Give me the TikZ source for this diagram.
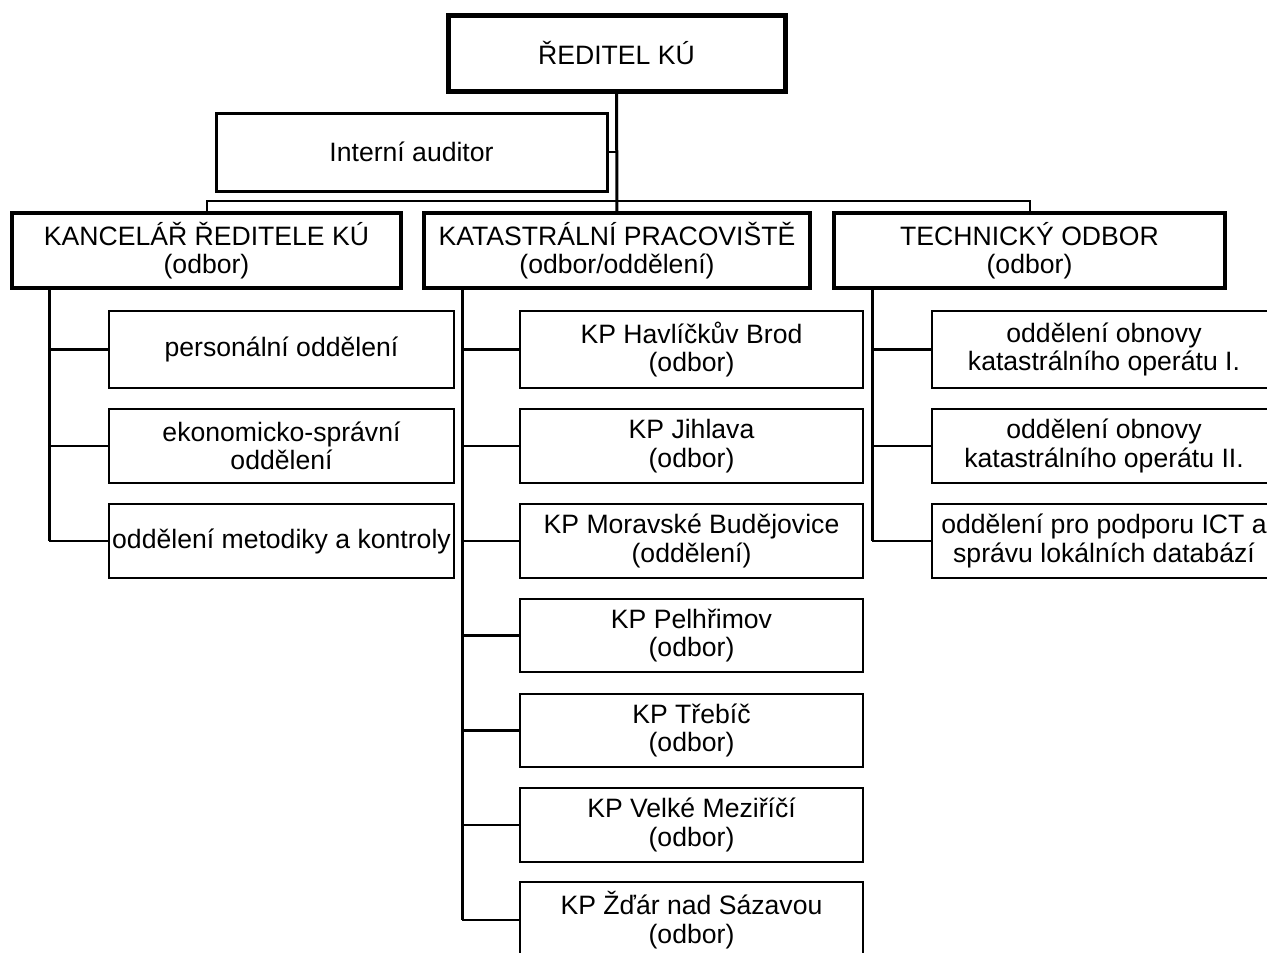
\documentclass[tikz,border=0pt]{standalone}
\usepackage{fontspec}
\setmainfont{Liberation Sans}
\begin{document}
\begin{tikzpicture}[x=1pt,y=-1pt,
  box/.style={draw, line width=2.5pt, align=center, outer sep=0pt, inner sep=0pt,
    font=\fontsize{26.6}{28.5}\selectfont},
  headbox/.style={box, line width=4pt},
  topbox/.style={box, line width=5pt},
  trunk/.style={line width=3pt},
  branch/.style={line width=2.2pt},
  bus/.style={line width=2pt}]
\useasboundingbox (0,0) rectangle (1267,953);
\clip (0,0) rectangle (1267,953);

% director and internal auditor
\node[topbox, minimum width=337pt, minimum height=76pt] (top) at (616.5,53) {ŘEDITEL KÚ};
\node[box, line width=3pt, minimum width=391pt, minimum height=78pt] (ia) at (411.5,152) {Interní auditor};

% departments
\node[headbox, minimum width=389pt, minimum height=75pt] (kanc) at (206.5,250.5) {KANCELÁŘ ŘEDITELE KÚ\\(odbor)};
\node[headbox, minimum width=386pt, minimum height=75pt] (kat) at (617,250.5) {KATASTRÁLNÍ PRACOVIŠTĚ\\(odbor/oddělení)};
\node[headbox, minimum width=391pt, minimum height=75pt] (tech) at (1029.5,250.5) {TECHNICKÝ ODBOR\\(odbor)};

% office units
\node[box, minimum width=345pt, minimum height=77pt] (k1) at (281.5,349.5) {personální oddělení};
\node[box, minimum width=345pt, minimum height=74pt] (k2) at (281.5,446) {ekonomicko-správní\\oddělení};
\node[box, minimum width=345pt, minimum height=74pt] (k3) at (281.5,541) {oddělení metodiky a kontroly};

% cadastral workplaces
\node[box, minimum width=343pt, minimum height=77pt] (p1) at (691.5,349.5) {KP Havlíčkův Brod\\(odbor)};
\node[box, minimum width=343pt, minimum height=74pt] (p2) at (691.5,446) {KP Jihlava\\(odbor)};
\node[box, minimum width=343pt, minimum height=74pt] (p3) at (691.5,541) {KP Moravské Budějovice\\(oddělení)};
\node[box, minimum width=343pt, minimum height=73pt] (p4) at (691.5,635.5) {KP Pelhřimov\\(odbor)};
\node[box, minimum width=343pt, minimum height=73pt] (p5) at (691.5,730.5) {KP Třebíč\\(odbor)};
\node[box, minimum width=343pt, minimum height=74pt] (p6) at (691.5,825) {KP Velké Meziříčí\\(odbor)};
\node[box, minimum width=343pt, minimum height=76pt] (p7) at (691.5,920) {KP Žďár nad Sázavou\\(odbor)};

% technical units
\node[box, minimum width=344pt, minimum height=77pt] (t1) at (1104,349.5) {oddělení obnovy\\katastrálního operátu I.};
\node[box, minimum width=344pt, minimum height=74pt] (t2) at (1104,446) {oddělení obnovy\\katastrálního operátu II.};
\node[box, minimum width=344pt, minimum height=74pt] (t3) at (1104,541) {oddělení pro podporu ICT a\\správu lokálních databází};

% top connections
\draw[trunk] (top.south) -- (kat.north);
\draw[branch] (ia.east) -- (ia.east -| top.south);
\draw[bus] (kanc.north) -- ++(0,-12) -| (tech.north);

% trunks with branches
\coordinate (kt) at ([xshift=37pt]kanc.south west);
\coordinate (pt) at ([xshift=38pt]kat.south west);
\coordinate (tt) at ([xshift=38pt]tech.south west);
\draw[trunk] (kt) -- (kt |- k3.west);
\draw[trunk] (pt) -- (pt |- p7.west);
\draw[trunk] (tt) -- (tt |- t3.west);
\foreach \n in {k1,k2,k3} \draw[branch] (\n.west) -- (\n.west -| kt);
\foreach \n in {p1,p2,p3,p4,p5,p6,p7} \draw[branch] (\n.west) -- (\n.west -| pt);
\foreach \n in {t1,t2,t3} \draw[branch] (\n.west) -- (\n.west -| tt);
\end{tikzpicture}
\end{document}
